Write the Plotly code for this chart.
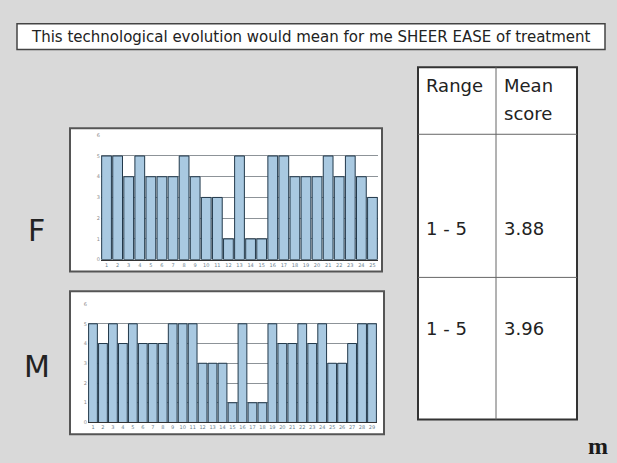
import plotly.graph_objects as go

W, H = 617, 463

title_text = "This technological evolution would mean for me SHEER EASE of treatment"
group_labels = ["F", "M"]

f_categories = [str(i) for i in range(1, 26)]
f_values = [5, 5, 4, 5, 4, 4, 4, 5, 4, 3, 3, 1, 5, 1, 1, 5, 5, 4, 4, 4, 5, 4, 5, 4, 3]

m_categories = [str(i) for i in range(1, 30)]
m_values = [5, 4, 5, 4, 5, 4, 4, 4, 5, 5, 5, 3, 3, 3, 1, 5, 1, 1, 5, 4, 4, 5, 4, 5, 3, 3, 4, 5, 5]

y_ticks = [0, 1, 2, 3, 4, 5, 6]

table_header = ["Range", "Mean", "score"]
ranges = ["1 - 5", "1 - 5"]
mean_scores = ["3.88", "3.96"]


def px(x):
    return x / W


def py(y):
    return 1 - y / H


BAR_FILL = "#a9c9e1"
BAR_LINE = "#22394b"
PLOT_BG = "#cdd1d4"
GRID = "#8d9398"
TXT = "#222222"
FONT = "DejaVu Sans"

fig = go.Figure()
fig.add_trace(go.Bar(x=f_categories, y=f_values, xaxis="x", yaxis="y",
                     marker=dict(color=BAR_FILL, line=dict(color=BAR_LINE, width=1))))
fig.add_trace(go.Bar(x=m_categories, y=m_values, xaxis="x2", yaxis="y2",
                     marker=dict(color=BAR_FILL, line=dict(color=BAR_LINE, width=1))))

axis_x = dict(showgrid=False, ticks="", showline=True, linecolor="#333333", linewidth=1,
              tickfont=dict(size=5, color="#6b7f90", family=FONT), type="category",
              fixedrange=True)
axis_y = dict(range=[0, 6], tickvals=y_ticks, showgrid=True, gridcolor=GRID, gridwidth=1,
              zeroline=False, ticks="", tickfont=dict(size=5, color="#8a8a8a", family=FONT),
              fixedrange=True)

fig.update_layout(
    width=W, height=H,
    margin=dict(l=0, r=0, t=0, b=0),
    paper_bgcolor="#d9d9d9",
    plot_bgcolor=PLOT_BG,
    showlegend=False,
    bargap=0.12,
    xaxis=dict(domain=[px(101), px(378)], anchor="y", **axis_x),
    yaxis=dict(domain=[py(260), py(134)], anchor="x", **axis_y),
    xaxis2=dict(domain=[px(88), px(377)], anchor="y2", **axis_x),
    yaxis2=dict(domain=[py(425), py(305)], anchor="x2", **axis_y),
)

shapes = [
    # title box
    dict(type="rect", xref="paper", yref="paper", x0=px(17), x1=px(605), y0=py(47), y1=py(21),
         fillcolor="white", line=dict(color="#444444", width=1.5), layer="below"),
    # F chart frame
    dict(type="rect", xref="paper", yref="paper", x0=px(70), x1=px(382), y0=py(272), y1=py(127),
         fillcolor="white", line=dict(color="#555555", width=2), layer="below"),
    # M chart frame
    dict(type="rect", xref="paper", yref="paper", x0=px(70), x1=px(384), y0=py(437), y1=py(292),
         fillcolor="white", line=dict(color="#555555", width=2), layer="below"),
    # table
    dict(type="rect", xref="paper", yref="paper", x0=px(418), x1=px(577), y0=py(422), y1=py(65),
         fillcolor="white", line=dict(color="#333333", width=2), layer="below"),
    dict(type="line", xref="paper", yref="paper", x0=px(496), x1=px(496), y0=py(422), y1=py(65),
         line=dict(color="#666666", width=1), layer="below"),
    dict(type="line", xref="paper", yref="paper", x0=px(418), x1=px(577), y0=py(133), y1=py(133),
         line=dict(color="#666666", width=1), layer="below"),
    dict(type="line", xref="paper", yref="paper", x0=px(418), x1=px(577), y0=py(278), y1=py(278),
         line=dict(color="#666666", width=1), layer="below"),
]
fig.update_layout(shapes=shapes)

ann = []


def add_text(text, x, y, size, xanchor="left", family=FONT, color=TXT):
    ann.append(dict(text=text, x=px(x), y=py(y), xref="paper", yref="paper",
                    xanchor=xanchor, yanchor="middle", showarrow=False,
                    font=dict(size=size, family=family, color=color)))


add_text(title_text, 311, 34, 15, xanchor="center")
add_text(group_labels[0], 36, 230, 30, xanchor="center")
add_text(group_labels[1], 37, 368, 30, xanchor="center")
add_text(table_header[0], 424, 84, 18)
add_text(table_header[1], 502, 84, 18)
add_text(table_header[2], 502, 112, 18)
row_y = [228, 330]
for r, m, yy in zip(ranges, mean_scores, row_y):
    add_text(r, 424, yy, 18)
    add_text(m, 502, yy, 18)
add_text("<b>m</b>", 598, 449, 24, xanchor="center", family="Liberation Serif", color="#1a1a1a")

fig.update_layout(annotations=ann)
fig.write_html("out.html",
               config={"displayModeBar": False},
               post_script="document.body.style.margin='0';document.body.style.overflow='hidden';")
